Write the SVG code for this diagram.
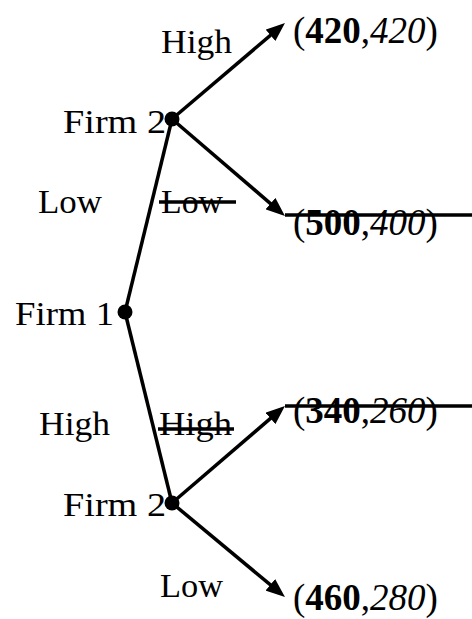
<svg xmlns="http://www.w3.org/2000/svg" width="472" height="619" viewBox="0 0 472 619">
<style>
.lbl{font-family:"Liberation Serif","Times New Roman",serif;font-size:34px;fill:#000}
.pay{font-family:"Liberation Serif","Times New Roman",serif;font-size:37px;fill:#000}
.b{font-weight:bold}
.i{font-style:italic}
.edge{stroke:#000;stroke-width:3.5;fill:none}
.strike{stroke:#000;stroke-width:3.5;fill:none}
.node{fill:#000}
</style>
<defs>
<marker id="ah" markerUnits="userSpaceOnUse" viewBox="0 0 19 15" refX="8" refY="7.5" markerWidth="19" markerHeight="15" orient="auto">
<path d="M0,0 L19,7.5 L0,15 Z" fill="#000"/>
</marker>
</defs>
<rect width="472" height="619" fill="#fff"/>
<g id="connectors">
<line class="edge" x1="125" y1="312" x2="172" y2="119"/>
<line class="edge" x1="125" y1="312" x2="172" y2="503"/>
<line class="edge" x1="172" y1="119" x2="276.6" y2="30.1" marker-end="url(#ah)"/>
<line class="edge" x1="172" y1="119" x2="276.6" y2="208.8" marker-end="url(#ah)"/>
<line class="edge" x1="172" y1="503" x2="276.6" y2="413.2" marker-end="url(#ah)"/>
<line class="edge" x1="172" y1="503" x2="276.5" y2="589.9" marker-end="url(#ah)"/>
</g>
<g id="firm1">
<circle class="node" cx="125" cy="312" r="7.5"/>
<text class="lbl" x="15" y="325" textLength="99" lengthAdjust="spacingAndGlyphs">Firm 1</text>
</g>
<g id="firm2-top">
<circle class="node" cx="172" cy="119" r="7.5"/>
<text class="lbl" x="63" y="133" textLength="103" lengthAdjust="spacingAndGlyphs">Firm 2</text>
</g>
<g id="firm2-bottom">
<circle class="node" cx="172" cy="503" r="7.5"/>
<text class="lbl" x="63" y="516" textLength="103" lengthAdjust="spacingAndGlyphs">Firm 2</text>
</g>
<g id="labels">
<text class="lbl" x="161" y="53" textLength="71" lengthAdjust="spacingAndGlyphs">High</text>
<text class="lbl" x="38" y="213" textLength="64" lengthAdjust="spacingAndGlyphs">Low</text>
<text class="lbl" x="161" y="213" textLength="62" lengthAdjust="spacingAndGlyphs">Low</text>
<text class="lbl" x="39" y="435" textLength="71" lengthAdjust="spacingAndGlyphs">High</text>
<text class="lbl" x="159" y="435" textLength="73" lengthAdjust="spacingAndGlyphs">High</text>
<text class="lbl" x="160" y="597" textLength="63" lengthAdjust="spacingAndGlyphs">Low</text>
</g>
<g id="payoffs">
<text class="pay" x="293" y="43">(<tspan class="b">420</tspan>,<tspan class="i">420</tspan>)</text>
<text class="pay" x="293" y="235">(<tspan class="b">500</tspan>,<tspan class="i">400</tspan>)</text>
<text class="pay" x="293" y="423">(<tspan class="b">340</tspan>,<tspan class="i">260</tspan>)</text>
<text class="pay" x="293" y="610">(<tspan class="b">460</tspan>,<tspan class="i">280</tspan>)</text>
</g>
<g id="strikes">
<line class="strike" x1="159" y1="202" x2="236" y2="202"/>
<line class="strike" x1="285" y1="215" x2="472" y2="215"/>
<line class="strike" x1="158" y1="429" x2="234" y2="429"/>
<line class="strike" x1="285" y1="406" x2="472" y2="406"/>
</g>
</svg>
